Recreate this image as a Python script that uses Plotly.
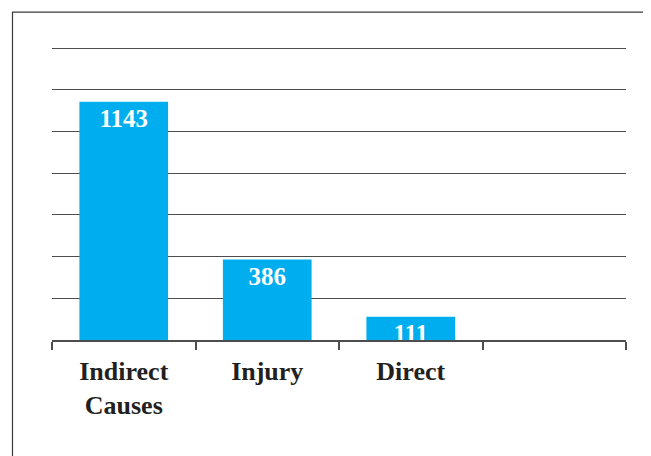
import plotly.graph_objects as go

categories = ["Indirect<br>Causes", "Injury", "Direct", " "]
values = [1143, 386, 111, None]
labels = ["1143", "386", "111", ""]

# page body has an 8px margin; offsets below are in figure pixels
OFF = 8
W, H = 651, 456
YMAX = 1410
plot_top_px = 340 - (340 - 48.5) * YMAX / 1400
ml, mr, mt, mb = 52 - OFF, 651 - (626 - OFF), plot_top_px - OFF, 456 - (340 - OFF)
pw, ph = W - ml - mr, H - mt - mb

def px_to_paper_x(px):
    return (px - OFF - ml) / pw

def px_to_paper_y(py):
    return (H - mb - (py - OFF)) / ph

fig = go.Figure(go.Bar(
    x=categories,
    y=values,
    text=labels,
    textposition="inside",
    insidetextanchor="end",
    constraintext="none",
    textangle=0,
    textfont=dict(family="Liberation Serif", size=25, color="white", weight="bold"),
    marker=dict(color="#00AEEF", line=dict(width=0)),
    hoverinfo="skip",
))

fig.update_layout(
    width=W, height=H,
    margin=dict(l=ml, r=mr, t=mt, b=mb, pad=0),
    paper_bgcolor="white",
    plot_bgcolor="white",
    bargap=0.382,
    showlegend=False,
    font=dict(family="Liberation Serif"),
)

fig.update_xaxes(
    type="category",
    categoryorder="array",
    categoryarray=categories,
    tickson="boundaries",
    ticks="outside",
    ticklen=8,
    tickwidth=1.5,
    tickcolor="#4d4d4d",
    showline=True,
    linecolor="#4d4d4d",
    linewidth=1.5,
    showgrid=False,
    ticklabelstandoff=7,
    tickfont=dict(family="Liberation Serif", size=26, color="#231F20", weight="bold"),
)

fig.update_yaxes(
    range=[0, YMAX],
    dtick=200,
    tick0=0,
    showticklabels=False,
    showgrid=True,
    gridcolor="#4d4d4d",
    gridwidth=1.3,
    zeroline=False,
    showline=False,
    ticks="",
)

fig.add_shape(
    type="rect", xref="paper", yref="paper",
    x0=px_to_paper_x(12.5), x1=px_to_paper_x(670),
    y0=px_to_paper_y(475), y1=px_to_paper_y(12.5),
    line=dict(color="#3a3a3a", width=1.2),
    fillcolor="rgba(0,0,0,0)",
    layer="below",
)

fig.write_html("out.html")
